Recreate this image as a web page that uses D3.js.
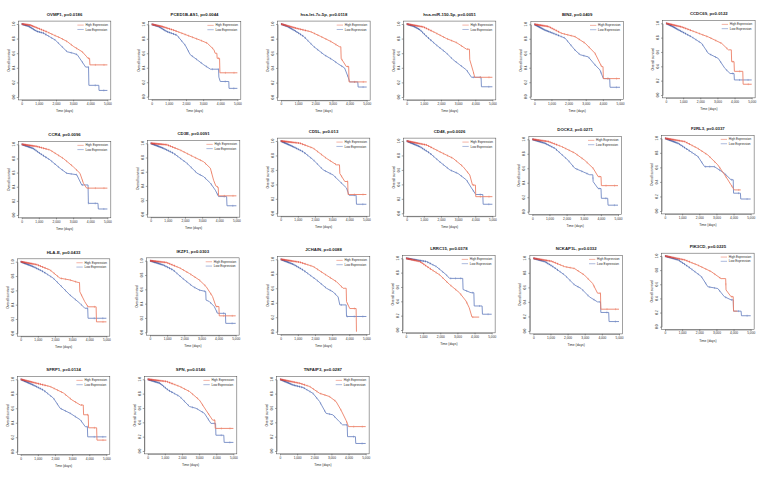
<!DOCTYPE html>
<html>
<head>
<meta charset="utf-8">
<script src="https://cdn.jsdelivr.net/npm/d3@7"></script>
<style>
  body { margin: 0; background: #fff; }
  svg { display: block; }
</style>
</head>
<body>
<script>
const genes = ["OVMP1", "PCED1B-AS1", "hsa-let-7c-5p", "hsa-miR-150-5p", "BIN2", "CCDC69",
               "CCR4", "CD3E", "CD5L", "CD48", "DOCK2", "F2RL3",
               "HLA-E", "IKZF1", "JCHAIN", "LRRC15", "NCKAP1L", "PIK3CD",
               "SFRP1", "SPN", "TNFAIP3"];
const pValues = ["0.0186", "0.0044", "0.0118", "0.0051", "0.0409", "0.0122",
                 "0.0096", "0.0091", "0.013", "0.0026", "0.0271", "0.0337",
                 "0.0433", "0.0303", "0.0088", "0.0378", "0.0332", "0.0225",
                 "0.0134", "0.0146", "0.0287"];

// survival traces [time in days, overall survival]
const highSurv = [
  [[0,1],[500,0.985],[1080,0.93],[1500,0.89],[1860,0.85],[2250,0.81],[2650,0.76],[3040,0.69],[3530,0.62],[3800,0.55],[3860,0.53],[3960,0.53],[3980,0.44],[5000,0.44]],
  [[0,1],[600,0.97],[1270,0.92],[2060,0.85],[2840,0.78],[3240,0.74],[3630,0.65],[3700,0.6],[3800,0.6],[3820,0.53],[3960,0.53],[3980,0.33],[5000,0.33]],
  [[0,1],[930,0.94],[1730,0.895],[2320,0.83],[2920,0.76],[3410,0.69],[3490,0.69],[3510,0.53],[3810,0.42],[3950,0.42],[3970,0.21],[5000,0.21]],
  [[0,1],[970,0.96],[1550,0.895],[2330,0.8],[2910,0.745],[3490,0.655],[3660,0.655],[3680,0.51],[3880,0.35],[3970,0.27],[5000,0.27]],
  [[0,1],[820,0.97],[1600,0.875],[2370,0.83],[2960,0.74],[3540,0.6],[3930,0.415],[4010,0.415],[4030,0.25],[5000,0.25]],
  [[0,1],[910,0.95],[1690,0.88],[2470,0.81],[3250,0.72],[3640,0.63],[3810,0.63],[3830,0.465],[3970,0.465],[3990,0.33],[4480,0.33],[4500,0.15],[5000,0.15]],
  [[0,1],[880,0.97],[1650,0.92],[2430,0.8],[3020,0.68],[3400,0.59],[3600,0.45],[3790,0.38],[5000,0.38]],
  [[0,1],[940,0.98],[1720,0.905],[2500,0.81],[3090,0.74],[3480,0.65],[3670,0.48],[3800,0.4],[3940,0.38],[3960,0.26],[5000,0.26]],
  [[0,1],[1120,0.97],[1900,0.9],[2670,0.76],[3260,0.67],[3430,0.67],[3450,0.55],[3740,0.44],[3910,0.44],[3930,0.26],[5000,0.26]],
  [[0,1],[1160,0.945],[1940,0.85],[2710,0.76],[3290,0.645],[3680,0.53],[3840,0.39],[4010,0.39],[4030,0.23],[5000,0.23]],
  [[0,1],[930,0.97],[1710,0.9],[2480,0.81],[3060,0.71],[3550,0.6],[3840,0.485],[4010,0.485],[4030,0.36],[5000,0.36]],
  [[0,1],[1150,0.955],[1920,0.86],[2500,0.77],[3080,0.635],[3560,0.47],[3850,0.36],[4040,0.29],[4420,0.29]],
  [[0,1],[930,0.96],[1710,0.885],[2290,0.77],[2870,0.745],[3350,0.71],[3430,0.71],[3450,0.58],[3740,0.44],[3930,0.37],[4400,0.37],[4420,0.16],[5000,0.16]],
  [[0,1],[960,0.975],[1730,0.9],[2310,0.82],[2880,0.73],[3270,0.64],[3650,0.5],[3850,0.36],[4020,0.36],[4040,0.23],[5000,0.23]],
  [[0,1],[1120,0.96],[1900,0.9],[2670,0.78],[3260,0.69],[3640,0.6],[3820,0.6],[3840,0.415],[4030,0.32],[4400,0.32],[4420,0]],
  [[0,1],[810,0.955],[1380,0.86],[1960,0.77],[2540,0.635],[3120,0.52],[3500,0.405],[3690,0.31],[3850,0.18],[4270,0.18]],
  [[0,1],[1060,0.96],[1830,0.885],[2400,0.86],[2980,0.77],[3460,0.655],[3750,0.52],[3920,0.52],[3940,0.3],[5000,0.3]],
  [[0,1],[1150,0.945],[1920,0.87],[2690,0.78],[3270,0.68],[3540,0.68],[3560,0.52],[3850,0.425],[3980,0.425],[4000,0.22],[4230,0.22]],
  [[0,1],[940,0.945],[1720,0.9],[2500,0.81],[2990,0.715],[3480,0.645],[3650,0.645],[3670,0.51],[3940,0.51],[3960,0.33],[4430,0.33],[4450,0.16],[5000,0.16]],
  [[0,1],[1100,0.97],[1870,0.9],[2440,0.83],[3020,0.71],[3400,0.57],[3790,0.43],[3920,0.43],[3940,0.315],[5000,0.315]],
  [[0,1],[1150,0.945],[1730,0.9],[2310,0.805],[2880,0.76],[3270,0.69],[3560,0.57],[3850,0.43],[4000,0.34],[5000,0.34]]
];
const lowSurv = [
  [[0,1],[400,0.97],[880,0.9],[1270,0.875],[1600,0.83],[1960,0.78],[2350,0.69],[2650,0.62],[3000,0.6],[3240,0.58],[3530,0.48],[3730,0.41],[3900,0.41],[3920,0.16],[4500,0.16],[4510,0.09],[5000,0.09]],
  [[0,1],[400,0.97],[880,0.9],[1470,0.85],[1960,0.71],[2250,0.58],[2650,0.51],[3040,0.44],[3430,0.38],[3900,0.38],[3920,0.27],[4000,0.21],[4500,0.21],[4510,0.115],[5000,0.115]],
  [[0,1],[350,0.97],[730,0.92],[1330,0.83],[1920,0.69],[2520,0.58],[3020,0.51],[3310,0.46],[3710,0.4],[3910,0.28],[4010,0.21],[4480,0.21],[4500,0.14],[5000,0.14]],
  [[0,1],[400,0.97],[780,0.92],[1160,0.83],[1740,0.71],[2330,0.6],[2710,0.51],[3100,0.44],[3490,0.37],[3780,0.27],[4340,0.27],[4360,0.14],[5000,0.14]],
  [[0,1],[620,0.92],[1110,0.875],[1790,0.81],[2370,0.645],[2670,0.58],[3150,0.55],[3540,0.44],[3830,0.37],[4030,0.25],[4400,0.25],[4420,0.13],[5000,0.13]],
  [[0,1],[350,0.96],[720,0.91],[1500,0.81],[2080,0.72],[2470,0.58],[3050,0.51],[3440,0.37],[3740,0.3],[3970,0.3],[3990,0.21],[5000,0.21]],
  [[0,1],[680,0.94],[1070,0.87],[1650,0.78],[2240,0.66],[2630,0.59],[3210,0.57],[3500,0.425],[3870,0.425],[3890,0.165],[4450,0.165],[4470,0.085],[5000,0.085]],
  [[0,1],[740,0.93],[1330,0.86],[2110,0.72],[2700,0.58],[3090,0.53],[3480,0.44],[3770,0.34],[3960,0.25],[4430,0.25],[4450,0.12],[5000,0.12]],
  [[0,1],[740,0.92],[1320,0.85],[1900,0.74],[2480,0.6],[3060,0.53],[3450,0.44],[3840,0.35],[3990,0.25],[4400,0.25],[4420,0.125],[5000,0.125]],
  [[0,1],[780,0.92],[1360,0.83],[1940,0.71],[2520,0.6],[3000,0.55],[3490,0.46],[3780,0.35],[4030,0.26],[4440,0.26],[4460,0.125],[5000,0.125]],
  [[0,1],[740,0.945],[1320,0.875],[2090,0.71],[2480,0.6],[2970,0.55],[3350,0.51],[3530,0.51],[3550,0.415],[3840,0.32],[4010,0.32],[4030,0.185],[4400,0.185],[4420,0.09],[5000,0.09]],
  [[0,1],[770,0.93],[1350,0.84],[1920,0.75],[2310,0.61],[2880,0.61],[3460,0.52],[3850,0.43],[3980,0.43],[4000,0.245],[4400,0.245],[4420,0.165],[5000,0.165]],
  [[0,1],[740,0.93],[1320,0.86],[1900,0.77],[2480,0.63],[2870,0.535],[3450,0.42],[3740,0.35],[3910,0.35],[3930,0.21],[5000,0.21]],
  [[0,1],[770,0.94],[1350,0.87],[1920,0.75],[2500,0.64],[2880,0.59],[3250,0.57],[3270,0.45],[3460,0.43],[3750,0.36],[3940,0.265],[4400,0.265],[4420,0.125],[5000,0.125]],
  [[0,1],[740,0.93],[1320,0.85],[2090,0.715],[2670,0.6],[3060,0.55],[3350,0.48],[3450,0.37],[3820,0.37],[3840,0.21],[5000,0.21]],
  [[0,1],[1190,0.955],[1770,0.885],[2350,0.77],[2540,0.72],[3310,0.72],[3330,0.565],[3790,0.52],[3960,0.52],[3980,0.335],[4440,0.335],[4460,0.22],[5000,0.22]],
  [[0,1],[670,0.955],[1150,0.885],[1830,0.77],[2400,0.635],[2790,0.585],[3270,0.47],[3750,0.4],[3920,0.4],[3940,0.255],[4400,0.255],[4420,0.13],[5000,0.13]],
  [[0,1],[770,0.945],[1350,0.85],[2120,0.71],[2500,0.565],[3080,0.54],[3460,0.425],[3850,0.38],[3980,0.38],[4000,0.22],[4440,0.22],[4460,0.155],[5000,0.155]],
  [[0,1],[740,0.92],[1330,0.85],[1910,0.74],[2300,0.6],[2890,0.53],[3480,0.44],[3770,0.345],[3890,0.345],[3910,0.205],[5000,0.205]],
  [[0,1],[710,0.945],[1190,0.85],[1870,0.76],[2440,0.62],[2830,0.595],[3310,0.525],[3690,0.385],[3960,0.385],[3980,0.22],[4440,0.22],[4460,0.12],[5000,0.12]],
  [[0,1],[770,0.92],[1350,0.885],[1920,0.805],[2310,0.69],[2690,0.525],[3080,0.505],[3460,0.41],[3650,0.365],[3920,0.365],[3940,0.2],[4400,0.2],[4420,0.105],[5000,0.105]]
];

// censoring times (days), dense early on as in the picture
const censorHigh = [30,70,110,150,190,230,270,320,360,410,460,510,570,630,700,770,850,940,1040,1150,1280,1420,1580,1760,1950,2150,2380,2620,2900,3200,3550,3900,4300,4800];
const censorLow = [20,60,100,140,180,220,260,300,350,400,450,500,560,620,690,760,840,930,1030,1140,1270,1410,1570,1750,1940,2140,2370,2610,2890,3190,3540,3890,4290,4790];

const xTicks = [0, 1000, 2000, 3000, 4000, 5000];
const yTicks = [0, 0.2, 0.4, 0.6, 0.8, 1.0];
const legendLabels = ["High Expression", "Low Expression"];

// pixel of day 0, of survival 1.0 and of survival 0.0 for each panel
const layout = [
  [21.7, 24, 97], [151.7, 24.3, 96.7], [281, 24, 97.3], [406.7, 24, 97], [534.3, 24.3, 96.7], [666, 23.3, 95],
  [21.7, 144.3, 215], [150.7, 143.3, 214.3], [280.7, 141, 213.3], [406.7, 141, 213.3], [532.3, 139.3, 211.7], [665, 138.3, 211],
  [20.7, 261.7, 333.3], [150, 260.7, 332.3], [280.7, 259.3, 331.7], [406, 258.3, 330], [533.3, 258.3, 331], [665, 256, 326.7],
  [20.7, 379.3, 451.7], [147.7, 379.3, 451], [280, 379.3, 451]
];
const xSpan = 85.7;

const highLine = "#ec8068", lowLine = "#7289c4";
const highMark = "#dc2f28", lowMark = "#2a4696";
const ink = "#2a2a2a";

const svg = d3.select("body").append("svg")
  .attr("width", 767)
  .attr("height", 479)
  .attr("font-family", "'Liberation Sans', Arial, sans-serif");

genes.forEach((gene, i) => drawPanel(i));

function survAt(trace, t) {
  for (let k = 1; k < trace.length; k++) {
    const [t0, s0] = trace[k - 1], [t1, s1] = trace[k];
    if (t <= t1) return t1 === t0 ? s1 : s0 + (s1 - s0) * (t - t0) / (t1 - t0);
  }
  return null;
}

function drawPanel(i) {
  const [px0, py1, py0] = layout[i];
  const x = d3.scaleLinear().domain([0, 5000]).range([px0, px0 + xSpan]);
  const y = d3.scaleLinear().domain([0, 1]).range([py0, py1]);
  const g = svg.append("g");

  const bx0 = x(-200), bx1 = x(5200), byB = y(-0.04), byT = y(1.04);

  g.append("rect")
    .attr("x", bx0).attr("y", byT)
    .attr("width", bx1 - bx0).attr("height", byB - byT)
    .attr("fill", "none").attr("stroke", "#444").attr("stroke-width", 0.5);

  const xAxis = g.append("g")
    .attr("transform", `translate(0,${byB})`)
    .call(d3.axisBottom(x).tickValues(xTicks).tickSize(1.5).tickSizeOuter(0).tickPadding(1.2));
  xAxis.attr("font-size", 3.2).attr("font-family", null);
  xAxis.selectAll("path, line").attr("stroke", "#444").attr("stroke-width", 0.5);
  xAxis.selectAll("text").attr("fill", ink);

  const yAxis = g.append("g")
    .attr("transform", `translate(${bx0},0)`)
    .call(d3.axisLeft(y).tickValues(yTicks).tickSize(1.5).tickSizeOuter(0).tickFormat(""));
  yAxis.selectAll("path, line").attr("stroke", "#444").attr("stroke-width", 0.5);

  g.selectAll(".ylab")
    .data(yTicks)
    .join("text")
    .attr("transform", d => `translate(${bx0 - 3.4},${y(d)}) rotate(-90)`)
    .attr("text-anchor", "middle")
    .attr("font-size", 3.2)
    .attr("fill", ink)
    .text(d3.format(".1f"));

  g.append("text")
    .attr("transform", `translate(${bx0 - 8.6},${(byT + byB) / 2}) rotate(-90)`)
    .attr("text-anchor", "middle")
    .attr("font-size", 3.3)
    .attr("fill", ink)
    .text("Overall survival");

  g.append("text")
    .attr("x", (bx0 + bx1) / 2)
    .attr("y", byB + 12.2)
    .attr("text-anchor", "middle")
    .attr("font-size", 3.3)
    .attr("fill", ink)
    .text("Time (days)");

  g.append("text")
    .attr("x", (bx0 + bx1) / 2)
    .attr("y", byT - 5.2)
    .attr("text-anchor", "middle")
    .attr("font-size", 4.3)
    .attr("font-weight", "bold")
    .attr("fill", "#1a1a1a")
    .text(`${genes[i]}, p=${pValues[i]}`);

  const line = d3.line().x(d => x(d[0])).y(d => y(d[1]));

  const groups = [
    {trace: highSurv[i], censor: censorHigh, stroke: highLine, mark: highMark},
    {trace: lowSurv[i], censor: censorLow, stroke: lowLine, mark: lowMark}
  ];

  // low first so the high curve sits on top
  groups.slice().reverse().forEach(grp => {
    g.append("path")
      .attr("d", line(grp.trace))
      .attr("fill", "none")
      .attr("stroke", grp.stroke)
      .attr("stroke-width", 0.9);

    const end = grp.trace[grp.trace.length - 1][0];
    const marks = grp.censor.filter(t => t < end);
    g.selectAll(null)
      .data(marks)
      .join("line")
      .attr("x1", t => x(t)).attr("x2", t => x(t))
      .attr("y1", t => y(survAt(grp.trace, t)) - 1)
      .attr("y2", t => y(survAt(grp.trace, t)) + 1)
      .attr("stroke", t => t < 1500 ? grp.mark : grp.stroke)
      .attr("stroke-width", 0.5);
  });

  // legend, top right
  const lg = g.append("g");
  legendLabels.forEach((label, k) => {
    const ly = y(0.985 - k * 0.06);
    lg.append("line")
      .attr("x1", x(3250)).attr("x2", x(3620))
      .attr("y1", ly).attr("y2", ly)
      .attr("stroke", k === 0 ? highLine : lowLine)
      .attr("stroke-width", 0.6);
    lg.append("text")
      .attr("x", x(3720))
      .attr("y", ly + 1.1)
      .attr("font-size", 3.1)
      .attr("fill", ink)
      .text(label);
  });
}
</script>
</body>
</html>
